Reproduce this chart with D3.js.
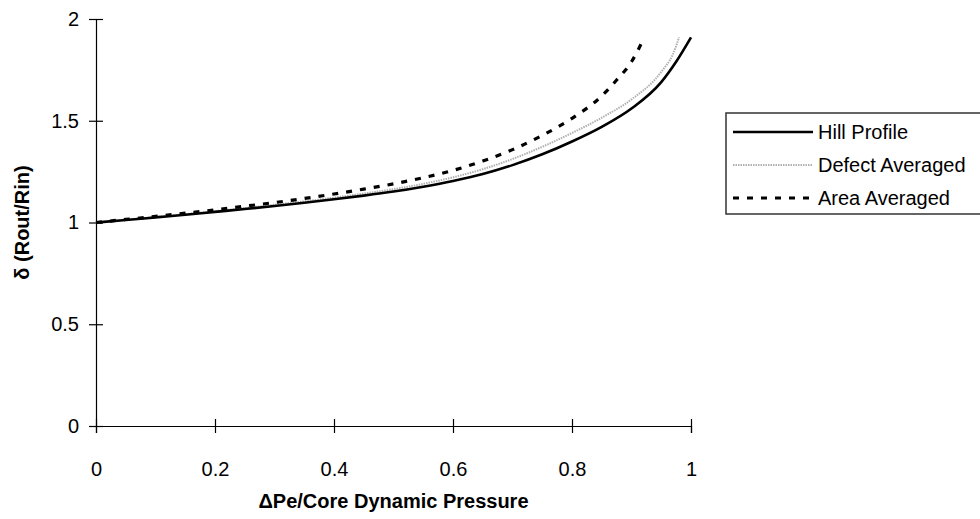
<!DOCTYPE html>
<html>
<head>
<meta charset="utf-8">
<script src="https://cdn.jsdelivr.net/npm/d3@7"></script>
<style>
  html, body { margin: 0; padding: 0; background: #fff; }
  svg { display: block; font-family: "Liberation Sans", Arial, sans-serif; }
</style>
</head>
<body>
<svg id="chart" width="980" height="519"></svg>
<script>
// Pressure ratio samples (x) and expansion ratio δ for each averaging method
const hillX = [0, 0.05, 0.1, 0.15, 0.2, 0.25, 0.3, 0.35, 0.4, 0.45, 0.5, 0.55, 0.6, 0.65, 0.7, 0.75, 0.8, 0.85, 0.9, 0.95, 0.975, 1.0];
const hillY = [1.000, 1.012, 1.025, 1.038, 1.052, 1.066, 1.081, 1.097, 1.114, 1.132, 1.152, 1.176, 1.204, 1.238, 1.282, 1.335, 1.398, 1.470, 1.560, 1.690, 1.790, 1.910];

const defectX = [0, 0.05, 0.1, 0.15, 0.2, 0.25, 0.3, 0.35, 0.4, 0.45, 0.5, 0.55, 0.6, 0.65, 0.7, 0.75, 0.8, 0.85, 0.9, 0.95, 0.97, 0.98];
const defectY = [1.000, 1.013, 1.027, 1.041, 1.056, 1.071, 1.087, 1.104, 1.122, 1.142, 1.164, 1.190, 1.222, 1.262, 1.312, 1.372, 1.440, 1.515, 1.605, 1.740, 1.830, 1.910];

const areaX = [0, 0.05, 0.1, 0.15, 0.2, 0.25, 0.3, 0.35, 0.4, 0.45, 0.5, 0.55, 0.6, 0.65, 0.7, 0.75, 0.8, 0.85, 0.875, 0.9, 0.92];
const areaY = [1.000, 1.015, 1.030, 1.046, 1.062, 1.080, 1.098, 1.118, 1.140, 1.164, 1.190, 1.220, 1.256, 1.302, 1.358, 1.428, 1.512, 1.622, 1.700, 1.790, 1.900];

const xTicks = [0, 0.2, 0.4, 0.6, 0.8, 1];
const yTicks = [0, 0.5, 1, 1.5, 2];
const seriesNames = ["Hill Profile", "Defect Averaged", "Area Averaged"];

const svg = d3.select("#chart");
const plotLeft = 96, plotRight = 691, plotTop = 19, plotBottom = 426;

const x = d3.scaleLinear().domain([0, 1]).range([plotLeft, plotRight]);
const y = d3.scaleLinear().domain([0, 2]).range([plotBottom, plotTop]);

// Axes with ticks crossing the axis line
const xAxis = svg.append("g").attr("transform", `translate(0,${plotBottom})`)
  .call(d3.axisBottom(x).tickValues(xTicks).tickSize(7)
    .tickFormat(d => d3.format("")(d)));
const yAxis = svg.append("g").attr("transform", `translate(${plotLeft},0)`)
  .call(d3.axisLeft(y).tickValues(yTicks).tickSize(7).tickPadding(10)
    .tickFormat(d => d3.format("")(d)));

[xAxis, yAxis].forEach(g => {
  g.select(".domain").attr("stroke", "#000").attr("stroke-width", 1.2);
  g.selectAll(".tick line").attr("stroke", "#000").attr("stroke-width", 1.2);
  g.selectAll(".tick text").attr("fill", "#000").attr("font-size", 20)
    .attr("font-family", "Liberation Sans, Arial, sans-serif");
});
xAxis.selectAll(".tick line").attr("y1", -7);
yAxis.selectAll(".tick line").attr("x1", 7).attr("x2", -7);
xAxis.selectAll(".tick text").attr("dy", "0.71em").attr("y", 36);

// Axis titles
svg.append("text")
  .attr("x", (plotLeft + plotRight) / 2).attr("y", 508)
  .attr("text-anchor", "middle").attr("font-size", 20).attr("font-weight", "bold")
  .text("ΔPe/Core Dynamic Pressure");
svg.append("text")
  .attr("transform", `translate(29,${(plotTop + plotBottom) / 2}) rotate(-90)`)
  .attr("text-anchor", "middle").attr("font-size", 20).attr("font-weight", "bold")
  .text("δ (Rout/Rin)");

const line = d3.line().x(d => x(d[0])).y(d => y(d[1])).curve(d3.curveMonotoneX);

const styles = [
  { stroke: "#000", width: 2.6, dash: null },
  { stroke: "#b0b0b0", width: 2, dash: "1.5,1" },
  { stroke: "#000", width: 3.2, dash: "6,8" }
];
const series = [
  { pts: d3.zip(defectX, defectY), style: styles[1] },
  { pts: d3.zip(hillX, hillY), style: styles[0] },
  { pts: d3.zip(areaX, areaY), style: styles[2] }
];
series.forEach(sr => {
  svg.append("path").datum(sr.pts)
    .attr("fill", "none")
    .attr("stroke", sr.style.stroke)
    .attr("stroke-width", sr.style.width)
    .attr("stroke-dasharray", sr.style.dash)
    .attr("d", line);
});

// Legend
const lg = svg.append("g");
lg.append("rect").attr("x", 726).attr("y", 113).attr("width", 260).attr("height", 101)
  .attr("fill", "#fff").attr("stroke", "#333").attr("stroke-width", 1.5);
const rowY = [132, 165, 198];
seriesNames.forEach((name, i) => {
  const s = styles[i];
  lg.append("line").attr("x1", 733).attr("x2", 813).attr("y1", rowY[i]).attr("y2", rowY[i])
    .attr("stroke", s.stroke).attr("stroke-width", s.width)
    .attr("stroke-dasharray", s.dash);
  lg.append("text").attr("x", 818).attr("y", rowY[i]).attr("dy", "0.35em")
    .attr("font-size", 20).attr("fill", "#000").text(name);
});
</script>
</body>
</html>
